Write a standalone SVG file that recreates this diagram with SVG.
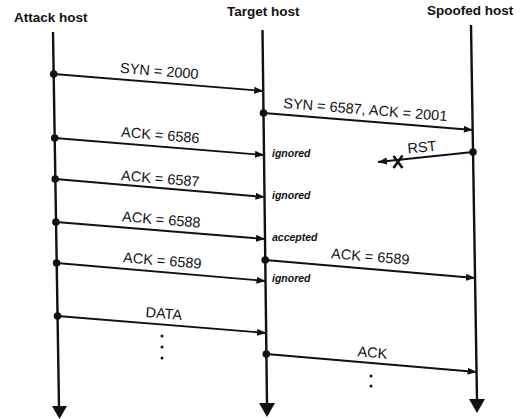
<svg xmlns="http://www.w3.org/2000/svg" width="523" height="419" viewBox="0 0 523 419">
  <style>
    .hdr { font-family: "Liberation Sans", Arial, sans-serif; font-weight: bold; font-size: 13.5px; fill: #111; }
    .lbl { font-family: "Liberation Sans", Arial, sans-serif; font-size: 14.5px; fill: #111; }
    .st { font-family: "Liberation Sans", Arial, sans-serif; font-weight: bold; font-style: italic; font-size: 10.5px; fill: #111; }
    .life { stroke: #111; stroke-width: 2.4; fill: none; }
    .msg { stroke: #111; stroke-width: 1.8; fill: none; marker-end: url(#ah); }
    .dot { fill: #111; }
  </style>
  <defs>
    <marker id="ah" markerUnits="userSpaceOnUse" markerWidth="10" markerHeight="8" refX="9" refY="3.5" orient="auto">
      <path d="M0,0 L9,3.5 L0,7 Z" fill="#111"/>
    </marker>
  </defs>
  <rect width="523" height="419" fill="#fff"/>

  <g id="attack-host">
    <text class="hdr" x="14" y="22">Attack host</text>
    <line class="life" x1="53" y1="32" x2="59" y2="407"/>
    <polygon points="52,406 67,406 59.5,419" fill="#111"/>
  </g>
  <g id="target-host">
    <text class="hdr" x="227" y="16">Target host</text>
    <line class="life" x1="262.5" y1="30" x2="267" y2="404"/>
    <polygon points="259,403 275,403 267,417" fill="#111"/>
  </g>
  <g id="spoofed-host">
    <text class="hdr" x="427" y="15">Spoofed host</text>
    <line class="life" x1="471" y1="25" x2="477" y2="400"/>
    <polygon points="469,399 485,399 477,413" fill="#111"/>
  </g>

  <g id="connectors">
    <line class="msg" x1="53.7" y1="74" x2="263.2" y2="91"/>
    <circle class="dot" cx="53.7" cy="74" r="3.8"/>
    <line class="msg" x1="263.5" y1="113" x2="472.7" y2="130"/>
    <circle class="dot" cx="263.5" cy="113" r="3.8"/>
    <line class="msg" x1="54.7" y1="138" x2="264" y2="155"/>
    <circle class="dot" cx="54.7" cy="138" r="3.8"/>
    <line class="msg" x1="473" y1="152" x2="378" y2="162"/>
    <circle class="dot" cx="473" cy="152" r="3.8"/>
    <path d="M393.5,156 L402.5,168 M402.5,155.5 L393.5,168" stroke="#111" stroke-width="2.6" fill="none"/>
    <line class="msg" x1="55.2" y1="179" x2="264.5" y2="197"/>
    <circle class="dot" cx="55.2" cy="179" r="3.8"/>
    <line class="msg" x1="55.9" y1="222" x2="265" y2="239"/>
    <circle class="dot" cx="55.9" cy="222" r="3.8"/>
    <line class="msg" x1="56.6" y1="263" x2="265.5" y2="281"/>
    <circle class="dot" cx="56.6" cy="263" r="3.8"/>
    <line class="msg" x1="265.2" y1="260" x2="475" y2="278"/>
    <circle class="dot" cx="265.2" cy="260" r="3.8"/>
    <line class="msg" x1="57.5" y1="316" x2="266.1" y2="333"/>
    <circle class="dot" cx="57.5" cy="316" r="3.8"/>
    <line class="msg" x1="266.3" y1="354" x2="476.6" y2="372"/>
    <circle class="dot" cx="266.3" cy="354" r="3.8"/>
    <g class="dot">
      <circle cx="162" cy="336" r="1.5"/>
      <circle cx="162" cy="347" r="1.5"/>
      <circle cx="162" cy="358" r="1.5"/>
      <circle cx="371" cy="376" r="1.5"/>
      <circle cx="371" cy="386" r="1.5"/>
    </g>
  </g>

  <g id="labels">
    <text class="lbl" text-anchor="middle" x="159" y="76" transform="rotate(4.6 159 76)">SYN = 2000</text>
    <text class="lbl" text-anchor="middle" x="365" y="114.5" transform="rotate(4.6 365 114.5)">SYN = 6587, ACK = 2001</text>
    <text class="lbl" text-anchor="middle" x="160" y="140" transform="rotate(4.6 160 140)">ACK = 6586</text>
    <text class="lbl" text-anchor="middle" x="422.5" y="152" font-size="14" transform="rotate(-6 422.5 152)">RST</text>
    <text class="lbl" text-anchor="middle" x="160" y="183.5" transform="rotate(4.6 160 183.5)">ACK = 6587</text>
    <text class="lbl" text-anchor="middle" x="161" y="224.5" transform="rotate(4.6 161 224.5)">ACK = 6588</text>
    <text class="lbl" text-anchor="middle" x="162" y="265.5" transform="rotate(4.6 162 265.5)">ACK = 6589</text>
    <text class="lbl" text-anchor="middle" x="370" y="261.5" transform="rotate(4.6 370 261.5)">ACK = 6589</text>
    <text class="lbl" text-anchor="middle" x="163.5" y="318.5" transform="rotate(4.6 163.5 318.5)">DATA</text>
    <text class="lbl" text-anchor="middle" x="372" y="357.5" transform="rotate(4.6 372 357.5)">ACK</text>
    <text class="st" x="272" y="157">ignored</text>
    <text class="st" x="272" y="198.5">ignored</text>
    <text class="st" x="272" y="241">accepted</text>
    <text class="st" x="272" y="281.5">ignored</text>
  </g>
</svg>
